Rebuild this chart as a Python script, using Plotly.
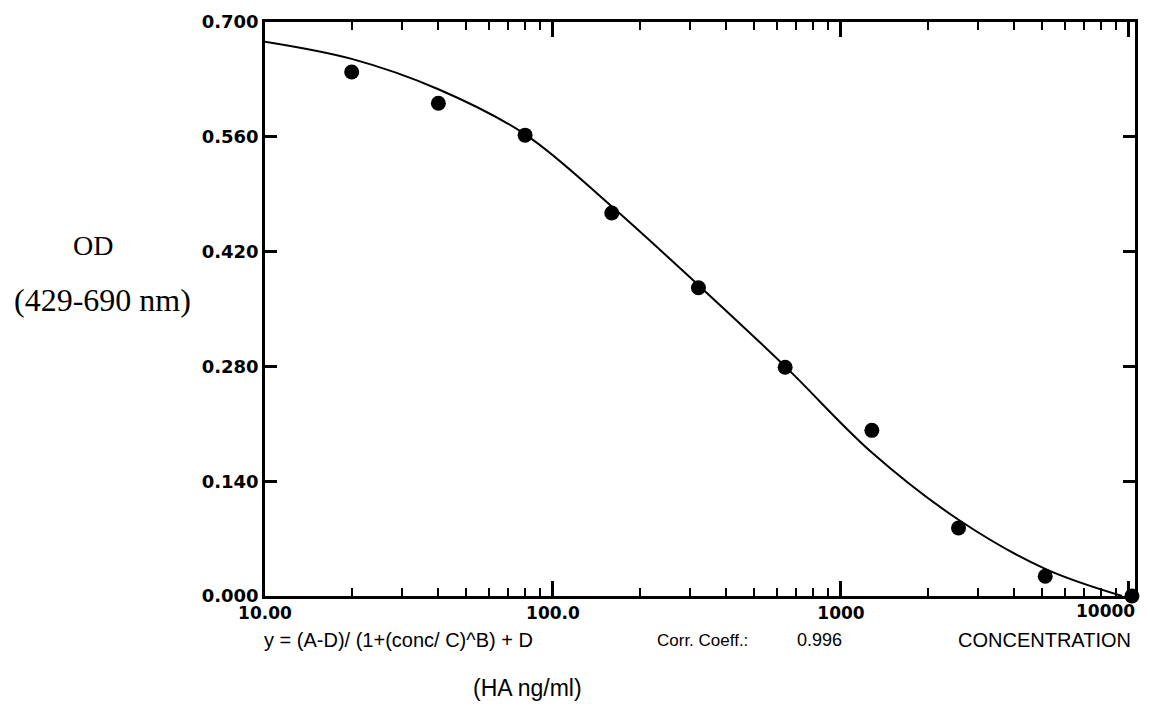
import plotly.graph_objects as go

# Standards: HA concentration (ng/ml) and measured OD (429-690 nm)
conc = [20, 40, 80, 160, 320, 640, 1280, 2560, 5120, 10240]
od = [0.639, 0.601, 0.562, 0.467, 0.376, 0.279, 0.202, 0.083, 0.024, 0.000]

# Fitted 4-parameter logistic curve, sampled along the concentration axis
fit_conc = [10, 20, 40, 80, 160, 320, 640, 1280, 2560, 5120, 9460]
fit_od = [0.676, 0.655, 0.618, 0.563, 0.475, 0.379, 0.280, 0.175, 0.093, 0.033, 0.000]

# Axis ticks
y_ticks = [0.0, 0.14, 0.28, 0.42, 0.56, 0.70]
x_major = [10, 100, 1000, 10000]
x_major_text = ["10.00", "100.0", "1000", ""]
x_minor = [m * d for d in (10, 100, 1000) for m in range(2, 10)]

corr_coeff = "0.996"
x_range = [1, 4.021]

fig = go.Figure()

fig.add_trace(go.Scatter(
    x=fit_conc, y=fit_od, mode="lines",
    line=dict(color="black", width=2, shape="spline", smoothing=1.0),
    hoverinfo="skip", showlegend=False,
))
fig.add_trace(go.Scatter(
    x=conc, y=od, mode="markers",
    marker=dict(color="black", size=15),
    cliponaxis=False, showlegend=False,
))

tick_font = dict(family="DejaVu Sans", size=17, color="black", weight="bold")

fig.update_layout(
    width=1150, height=715,
    margin=dict(l=265, r=15, t=22, b=119),
    paper_bgcolor="white", plot_bgcolor="white",
    showlegend=False,
    xaxis=dict(
        type="log", range=x_range,
        tickmode="array", tickvals=x_major, ticktext=x_major_text,
        ticks="inside", ticklen=15, tickwidth=2.5, tickcolor="black",
        minor=dict(tickmode="array", tickvals=x_minor, ticks="inside",
                   ticklen=8, tickwidth=2, tickcolor="black", showgrid=False),
        showline=True, linecolor="black", linewidth=2.5, mirror="allticks",
        showgrid=False, zeroline=False,
        tickfont=tick_font,
    ),
    yaxis=dict(
        range=[0, 0.7],
        tickmode="array", tickvals=y_ticks, tickformat=".3f",
        ticks="inside", ticklen=12, tickwidth=2.5, tickcolor="black",
        showline=True, linecolor="black", linewidth=2.5, mirror="allticks",
        showgrid=False, zeroline=False,
        tickfont=dict(family="DejaVu Sans", size=18, color="black", weight="bold"),
    ),
)

serif = dict(family="Liberation Serif", size=28, color="black")
sans = dict(family="Liberation Sans", size=18, color="black")

annotations = [
    dict(text="OD", x=-0.198, y=0.610, font=serif, xanchor="center"),
    dict(text="(429-690 nm)", x=-0.187, y=0.516, xanchor="center",
         font=dict(family="Liberation Serif", size=32, color="black")),
    dict(text="10000", x=1.002, y=-0.026, xanchor="right", font=tick_font),
    dict(text="y = (A-D)/ (1+(conc/ C)^B) + D", x=-0.003, y=-0.077,
         xanchor="left", font=dict(family="Liberation Sans", size=20, color="black")),
    dict(text="Corr. Coeff.:", x=0.448, y=-0.077, xanchor="left",
         font=dict(family="Liberation Sans", size=17, color="black")),
    dict(text=corr_coeff, x=0.609, y=-0.077, xanchor="left", font=sans),
    dict(text="CONCENTRATION", x=0.998, y=-0.077, xanchor="right",
         font=dict(family="Liberation Sans", size=20, color="black")),
    dict(text="(HA ng/ml)", x=0.302, y=-0.160, xanchor="center",
         font=dict(family="Liberation Sans", size=23, color="black")),
]
for a in annotations:
    fig.add_annotation(xref="paper", yref="paper", showarrow=False,
                       yanchor="middle", **a)

fig.write_html("out.html")
